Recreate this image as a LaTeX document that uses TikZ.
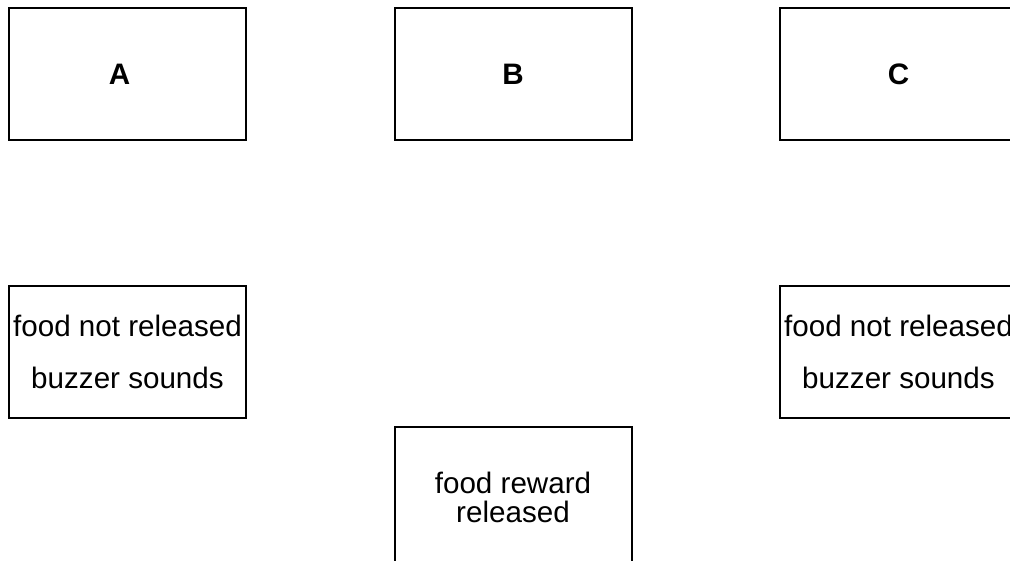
\documentclass[tikz,border=0pt]{standalone}
\usepackage{fontspec}
\setmainfont{Liberation Sans}

\begin{document}
\begin{tikzpicture}[x=1pt,y=-1pt,
	box/.style={draw,line width=2pt,minimum width=237pt,minimum height=132pt,inner sep=0pt,align=center,
		font=\fontsize{29.6}{35.5}\selectfont},
	letter/.style={box,font=\fontsize{29.6}{35.5}\selectfont\bfseries}]
			\useasboundingbox (0,0) rectangle (1010,561);
			\clip (0,0) rectangle (1010,561);
			\node[letter] (xA) at (127.5,74) {\hspace*{-16pt}A};
			\node[letter] (xB) at (513,74) {B};
			\node[letter] (xC) at (898.5,74) {C};
			\node[box] (xnoA) at (127.5,352) {food not released\\[17pt]buzzer sounds};
			\node[box] (xnoC) at (898.5,352) {food not released\\[17pt]buzzer sounds};
			\node[box,minimum height=141pt,font=\fontsize{29.6}{29}\selectfont] (xfood) at (513,497.5) {food reward\\released};
			\end{tikzpicture}
\end{document}
